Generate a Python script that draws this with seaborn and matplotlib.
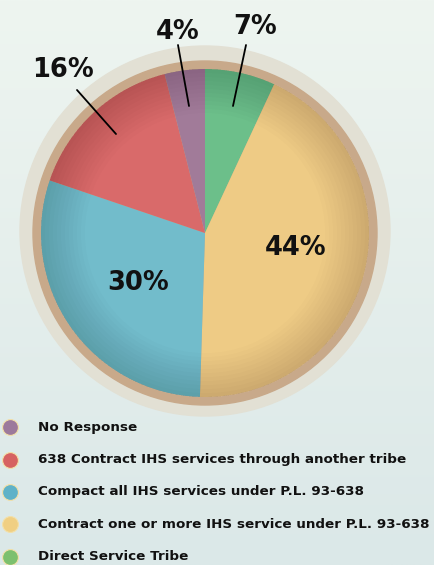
import numpy as np
import matplotlib
matplotlib.use("Agg")
import matplotlib.pyplot as plt
import seaborn as sns
from matplotlib.patches import Circle, Wedge
from matplotlib.colors import LinearSegmentedColormap

categories = ["Direct Service Tribe",
              "Contract one or more IHS service under P.L. 93-638",
              "Compact all IHS services under P.L. 93-638",
              "638 Contract IHS services through another tribe",
              "No Response"]
values = [7, 44, 30, 16, 4]
pct_labels = ["7%", "44%", "30%", "16%", "4%"]
colors = ["#6cbf8a", "#eecb85", "#72bccb", "#d96a6a", "#a17b99"]
legend_order = ["No Response",
                "638 Contract IHS services through another tribe",
                "Compact all IHS services under P.L. 93-638",
                "Contract one or more IHS service under P.L. 93-638",
                "Direct Service Tribe"]
legend_colors = ["#9c7a9c", "#d66262", "#5fb2c8", "#f0cf82", "#7cc06e"]

sns.set_style("white")
plt.rcParams['font.family'] = ['DejaVu Sans']

W, H = 434, 565
fig = plt.figure(figsize=(W / 100, H / 100), dpi=100)
ax = fig.add_axes([0, 0, 1, 1])

grad = np.linspace(0, 1, 256).reshape(-1, 1)
bg = LinearSegmentedColormap.from_list("bg", ["#dbe8e8", "#eef5f0"])
ax.imshow(grad, extent=[0, W, 0, H], cmap=bg, aspect="auto", origin="lower", zorder=0)

cx, cy = 205, H - 233
ax.add_patch(Circle((cx, cy + 2), 185, color="#e2e0d4", zorder=1))
ax.add_patch(Circle((cx, cy), 172, color="#c8a98a", zorder=2))

wedges, _ = ax.pie(values, colors=colors, startangle=90, counterclock=False,
                   center=(cx, cy), radius=164, frame=True,
                   wedgeprops=dict(linewidth=0))
for w in wedges:
    w.set_zorder(3)

for i, r in enumerate(np.linspace(120, 164, 12)):
    ax.add_patch(Wedge((cx, cy), 164, 0, 360, width=164 - r, color="black",
                       alpha=0.012, lw=0, zorder=4))

ax.set_xlim(0, W)
ax.set_ylim(0, H)
ax.set_aspect("equal")
ax.axis("off")

label_pos = {"7%": (255, 27), "44%": (296, 248), "30%": (138, 283), "16%": (63, 70), "4%": (178, 32)}
lines = {"7%": ((246, 45), (233, 106)), "16%": ((77, 90), (116, 134)), "4%": ((178, 45), (189, 106))}
for lab in pct_labels:
    x, y = label_pos[lab]
    ax.text(x, H - y, lab, fontsize=18.5, fontweight="bold", ha="center", va="center",
            color="#111111", zorder=6)
    if lab in lines:
        (x1, y1), (x2, y2) = lines[lab]
        ax.plot([x1, x2], [H - y1, H - y2], color="black", lw=1.3, zorder=6)

ys = [427, 460, 492, 524, 557]
for name, col, y in zip(legend_order, legend_colors, ys):
    ax.scatter([10], [H - y], s=130, color=col, edgecolors="#f3e0a8", linewidths=0.8, zorder=6)
    ax.text(38, H - y, name, fontsize=9.7, fontweight="bold", va="center", ha="left",
            color="#111111", zorder=6)

fig.savefig("out.png", dpi=100)
